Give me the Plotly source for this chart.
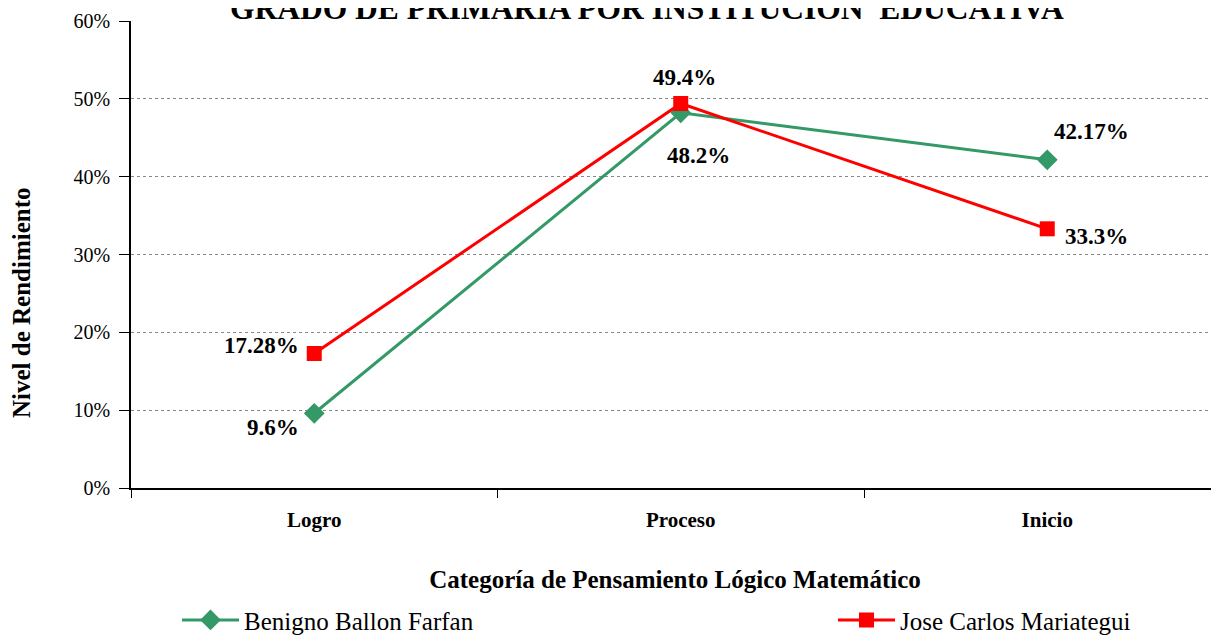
import plotly.graph_objects as go

categories = ["Logro", "Proceso", "Inicio"]
benigno = [9.6, 48.2, 42.17]
jose = [17.28, 49.4, 33.3]
benigno_labels = ["9.6%", "48.2%", "42.17%"]
jose_labels = ["17.28%", "49.4%", "33.3%"]
y_ticks = [0, 10, 20, 30, 40, 50, 60]
y_ticktext = ["0%", "10%", "20%", "30%", "40%", "50%", "60%"]

GREEN = "#339966"
RED = "#FF0000"
FONT = "Liberation Serif"

# page has an 8px body margin, so the figure is shifted by 8px
W, H = 1211, 627
L, T, B = 123, 13, 147
PW = W - L
PH = H - T - B

fig = go.Figure()
fig.add_trace(go.Scatter(
    x=categories, y=benigno, mode="lines+markers", name="Benigno Ballon Farfan",
    line=dict(color=GREEN, width=3),
    marker=dict(symbol="diamond", size=16, color=GREEN),
    legend="legend",
))
fig.add_trace(go.Scatter(
    x=categories, y=jose, mode="lines+markers", name="Jose Carlos Mariategui",
    line=dict(color=RED, width=3),
    marker=dict(symbol="square", size=15, color=RED),
    legend="legend2",
))

# label offsets (pixels) for data labels
b_off = [(-41, -14), (18, -43), (44, 28)]
j_off = [(-53, 8), (4, 26), (49, -8)]
for cat, v, t, (dx, dy) in zip(categories, benigno, benigno_labels, b_off):
    fig.add_annotation(x=cat, y=v, text="<b>%s</b>" % t, showarrow=False,
                       xshift=dx, yshift=dy, font=dict(family=FONT, size=23, color="black"))
for cat, v, t, (dx, dy) in zip(categories, jose, jose_labels, j_off):
    fig.add_annotation(x=cat, y=v, text="<b>%s</b>" % t, showarrow=False,
                       xshift=dx, yshift=dy, font=dict(family=FONT, size=23, color="black"))

fig.add_annotation(xref="paper", yref="paper", x=(647 - 131) / PW, y=1.0,
                   xanchor="center", yanchor="middle", yshift=13,
                   text="<b>GRADO DE PRIMARIA POR INSTITUCION  EDUCATIVA</b>",
                   showarrow=False, font=dict(family=FONT, size=31.5, color="black"))

# y-axis title
fig.add_annotation(xref="paper", yref="paper", x=0, xshift=-(131 - 21), xanchor="center",
                   y=(488 - 303) / PH, yanchor="middle", textangle=-90,
                   text="<b>Nivel de Rendimiento</b>", showarrow=False,
                   font=dict(family=FONT, size=25, color="black"))

leg_common = dict(orientation="h", yanchor="middle", xanchor="left", y=-0.283,
                  font=dict(family=FONT, size=25, color="black"), itemwidth=57,
                  bgcolor="rgba(0,0,0,0)")
fig.update_layout(
    width=W, height=H,
    margin=dict(l=L, r=0, t=T, b=B, autoexpand=False),
    paper_bgcolor="white", plot_bgcolor="white",
    font=dict(family=FONT, color="black"),
    showlegend=True,
    legend=dict(x=(177 - 131) / PW, **leg_common),
    legend2=dict(x=(833 - 131) / PW, **leg_common),
)
fig.update_xaxes(
    type="category", range=[-0.5, -0.5 + PW / 366.5], tickson="boundaries",
    ticks="outside", ticklen=8, tickcolor="black", automargin=False,
    showline=True, linecolor="black", linewidth=1.5, showgrid=False,
    tickfont=dict(family=FONT, size=21, color="black"), ticklabelstandoff=12,
    ticktext=["<b>%s</b>" % c for c in categories], tickvals=categories,
    title=dict(text="<b>Categoría de Pensamiento Lógico Matemático</b>",
               font=dict(family=FONT, size=25, color="black"), standoff=40),
)
fig.update_yaxes(
    range=[0, 60], tickvals=y_ticks, ticktext=y_ticktext,
    ticks="outside", ticklen=10, tickcolor="black", automargin=False,
    showline=True, linecolor="black", linewidth=1.5,
    showgrid=True, gridcolor="#888888", griddash="dot", gridwidth=1,
    zeroline=False, ticklabelstandoff=5,
    tickfont=dict(family=FONT, size=20, color="black"),
)

fig.write_html("out.html")
